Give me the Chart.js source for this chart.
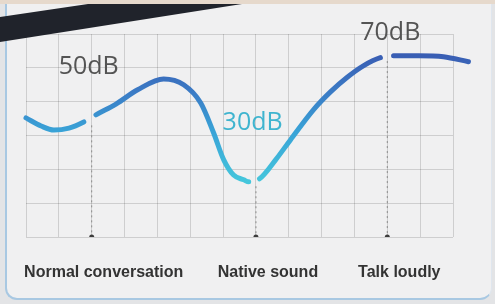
<!DOCTYPE html>
<html>
<head>
<meta charset="utf-8">
<script src="https://cdn.jsdelivr.net/npm/chart.js@4.4.1/dist/chart.umd.min.js"></script>
<style>
  html, body { margin: 0; padding: 0; }
  body { width: 495px; height: 304px; position: relative; overflow: hidden; background: #e3e4e6; }
  #top { position: absolute; left: 0; top: 0; width: 495px; height: 4px; background: #e6d9cc; }
  #panel {
    position: absolute; left: 5px; top: 4px; width: 484px; height: 294px;
    background: #f0f0f1; border-left: 2px solid #a8c8e2; border-bottom: 2px solid #a8c8e2;
    border-right: 1px solid #dfe6ee; border-radius: 0 0 12px 12px;
  }
  #band {
    position: absolute; left: 0; top: 0; width: 495px; height: 50px; background: #20232b;
    clip-path: polygon(0 17px, 88px 4px, 242px 4px, 0 42px);
  }
  canvas { position: absolute; left: 0; top: 0; }
</style>
</head>
<body>
<div id="top"></div>
<div id="panel"></div>
<canvas id="chart" width="495" height="304"></canvas>
<div id="band"></div>
<script>
// curve, in grid cells (x: columns from the left edge, y: rows above the base line)
const curveX = [0, 0.46, 0.85, 1.31, 1.76, 2.13, 2.74, 3.40, 4.19, 4.80, 5.32, 5.71, 6.02, 6.32, 6.63, 6.78,
  7.11, 7.60, 8.05, 8.75, 9.27, 9.79, 10.27, 10.79, 11.19, 11.95, 12.71, 13.47];
const curveY = [3.52, 3.28, 3.16, 3.22, 3.40, 3.61, 3.93, 4.35, 4.67, 4.50, 3.96, 3.08, 2.28, 1.83, 1.69, 1.63,
  1.72, 2.28, 2.87, 3.76, 4.29, 4.73, 5.06, 5.30, 5.36, 5.36, 5.33, 5.18];
// the curve breaks where it crosses a marker line
const gapAfter = [4, 15, 23];

const categories = ['Normal conversation', 'Native sound', 'Talk loudly'];
const markerX = [2, 7, 11];
const markerTop = [3.3, 1.5, 5.2];

const noteText = ['50dB', '30dB', '70dB'];
const noteX = [1.91, 6.9, 11.09];
const noteY = [5.03, 3.37, 6.04];
const noteColor = ['#545454', '#3fb4cf', '#545454'];

const tickLabel = (v) => {
  const i = markerX.indexOf(v);
  return i >= 0 ? categories[i] : '';
};

function lineGradient(context) {
  const { chart } = context;
  const { ctx, chartArea, scales } = chart;
  if (!chartArea || !scales.y) return '#3a8fd0';
  const top = scales.y.getPixelForValue(5.4);
  const bottom = scales.y.getPixelForValue(1.6);
  if (!Number.isFinite(top) || !Number.isFinite(bottom)) return '#3a8fd0';
  const g = ctx.createLinearGradient(0, top, 0, bottom);
  g.addColorStop(0, '#395db3');
  g.addColorStop(0.3, '#3b7cc6');
  g.addColorStop(0.6, '#39a3d7');
  g.addColorStop(1, '#45c7dc');
  return g;
}

const markerSets = markerX.map((x, i) => ({
  data: [{ x, y: markerTop[i] }, { x, y: 0 }],
  borderColor: '#8a8a8a',
  borderWidth: 1,
  borderDash: [2, 3],
  pointRadius: [0, 2.5],
  pointBackgroundColor: '#3c3c3c',
  pointBorderWidth: 0,
  order: 2,
}));

const notes = {
  id: 'notes',
  afterDatasetsDraw(chart) {
    const { ctx, scales } = chart;
    ctx.save();
    ctx.font = '400 25px "Open Sans", "Noto Sans", sans-serif';
    ctx.textAlign = 'center';
    ctx.textBaseline = 'middle';
    noteText.forEach((t, i) => {
      ctx.fillStyle = noteColor[i];
      ctx.fillText(t, scales.x.getPixelForValue(noteX[i]), scales.y.getPixelForValue(noteY[i]));
    });
    ctx.restore();
  },
};

// eslint-disable-next-line no-undef
new Chart(document.getElementById('chart'), {
  type: 'line',
  data: {
    datasets: [{
      data: curveX.map((x, i) => ({ x, y: curveY[i] })),
      borderColor: lineGradient,
      borderWidth: 5,
      borderCapStyle: 'round',
      cubicInterpolationMode: 'monotone',
      pointRadius: 0,
      clip: false,
      order: 1,
      segment: {
        borderColor: (ctx) => (gapAfter.includes(ctx.p0DataIndex) ? 'rgba(0,0,0,0)' : undefined),
      },
    }, ...markerSets],
  },
  plugins: [notes],
  options: {
    responsive: false,
    devicePixelRatio: 1,
    animation: false,
    layout: {
      padding: { left: 25, right: 42, top: 34, bottom: 0 },
    },
    plugins: {
      legend: { display: false },
      tooltip: { enabled: false },
    },
    scales: {
      x: {
        type: 'linear',
        min: 0,
        max: 13,
        border: { display: false },
        grid: { color: 'rgba(0,0,0,0.14)', drawTicks: false },
        afterFit: (scale) => { scale.height = 67; },
        ticks: {
          stepSize: 1,
          autoSkip: false,
          minRotation: 0,
          maxRotation: 0,
          padding: 26,
          labelOffset: 12,
          color: '#333',
          font: { family: '"Liberation Sans", Arial, sans-serif', size: 16, weight: 'bold' },
          callback: tickLabel,
        },
      },
      y: {
        min: 0,
        max: 6,
        border: { display: false },
        grid: { color: 'rgba(0,0,0,0.14)', drawTicks: false },
        ticks: { display: false, stepSize: 1 },
      },
    },
  },
});
</script>
</body>
</html>
